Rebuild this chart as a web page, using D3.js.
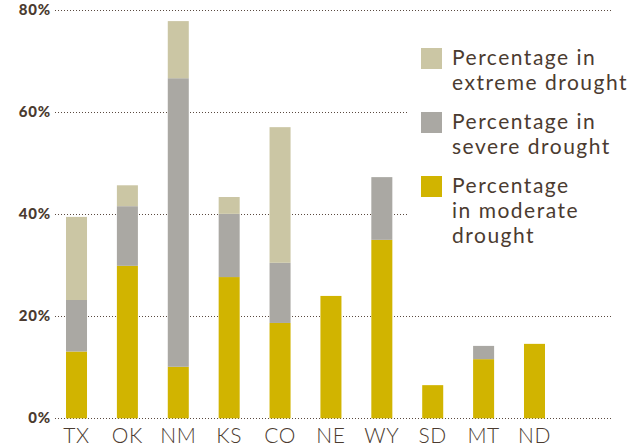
<!DOCTYPE html>
<html><head><meta charset="utf-8">
<script src="https://cdn.jsdelivr.net/npm/d3@7"></script>
<style>html,body{margin:0;padding:0;background:#fff;}svg{display:block;}</style>
</head><body>
<svg id="chart" width="642" height="446"></svg>
<script>
const states = ["TX","OK","NM","KS","CO","NE","WY","SD","MT","ND"];
const moderate = [13.1, 29.9, 10.1, 27.7, 18.7, 24.0, 35.0, 6.5, 11.6, 14.6];
const severe   = [10.1, 11.7, 56.6, 12.4, 11.8, 0,    12.3, 0,   2.6,  0];
const extreme  = [16.3, 4.1,  11.2, 3.3,  26.6, 0,    0,    0,   0,    0];
const yTicks = [0, 20, 40, 60, 80];
const seriesNames = ["moderate","severe","extreme"];
const legendLabels = [
  ["Percentage in","extreme drought"],
  ["Percentage in","severe drought"],
  ["Percentage","in moderate","drought"]
];
const colors = {moderate:"#D1B400", severe:"#AAA8A3", extreme:"#CBC6A4"};
const textColor = "#4B3B30";

const svg = d3.select("#chart");
const x = d3.scaleBand().domain(states).range([66, 545]).paddingInner(0.587).paddingOuter(0);
const y = d3.scaleLinear().domain([0, 80]).range([418.3, 10.4]);

const rows = states.map((s,i)=>({state:s, moderate:moderate[i], severe:severe[i], extreme:extreme[i]}));
const stacked = d3.stack().keys(seriesNames)(rows);

// gridlines
const gridEnd = {0:613, 20:613, 40:408, 60:408, 80:613};
svg.append("g").selectAll("line").data(yTicks).join("line")
  .attr("x1", 55).attr("x2", d=>gridEnd[d])
  .attr("y1", d=>Math.round(y(d))+0.5).attr("y2", d=>Math.round(y(d))+0.5)
  .attr("stroke", "#5a4a40").attr("stroke-width", 1)
  .attr("stroke-dasharray", "1,2");

// y tick labels
svg.append("g").selectAll("text").data(yTicks).join("text")
  .attr("x", 51).attr("y", d=>y(d)+5)
  .attr("text-anchor","end")
  .attr("font-family","Lato, sans-serif").attr("font-weight",900)
  .attr("font-size",15).attr("letter-spacing",0.8)
  .attr("fill",textColor)
  .text(d=>d+"%");

// bars
svg.append("g").selectAll("g").data(stacked).join("g")
  .attr("fill", d=>colors[d.key])
  .selectAll("rect").data(d=>d.filter(p=>p[1]-p[0]>0)).join("rect")
  .attr("x", d=>x(d.data.state))
  .attr("width", x.bandwidth())
  .attr("y", d=>y(d[1]))
  .attr("height", d=>y(d[0])-y(d[1]));

// x labels
svg.append("g").selectAll("text").data(states).join("text")
  .attr("x", d=>x(d)+x.bandwidth()/2).attr("y", 443)
  .attr("text-anchor","middle")
  .attr("font-family","Lato, sans-serif").attr("font-weight",300)
  .attr("font-size",21).attr("letter-spacing",0.6)
  .attr("fill",textColor)
  .text(d=>d);

// legend
const legKeys = ["extreme","severe","moderate"];
const legTop = [48, 112, 176];
const lg = svg.append("g");
legKeys.forEach((k,i)=>{
  lg.append("rect").attr("x",421).attr("y",legTop[i]).attr("width",21).attr("height",21).attr("fill",colors[k]);
  const t = lg.append("text").attr("x",452).attr("y",legTop[i]+17)
    .attr("font-family","Lato, sans-serif").attr("font-size",21).attr("letter-spacing",1.5)
    .attr("fill",textColor);
  legendLabels[i].forEach((line,j)=>{
    t.append("tspan").attr("x",452).attr("dy", j===0?0:25).text(line);
  });
});
</script>
</body></html>
